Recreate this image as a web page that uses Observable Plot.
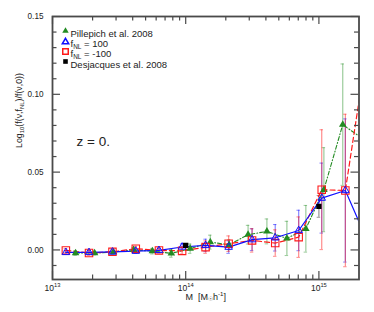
<!DOCTYPE html>
<html><head><meta charset="utf-8">
<script src="https://cdn.jsdelivr.net/npm/d3@7"></script>
<script src="https://cdn.jsdelivr.net/npm/@observablehq/plot@0.6"></script>
<style>body{margin:0;background:#fff}</style>
</head><body><div id="chart"></div>
<script>
// ---- data ----
const massFnl = [1.26e13, 1.88e13, 2.82e13, 4.22e13, 6.3e13, 9.4e13, 1.41e14, 2.1e14, 3.15e14, 4.7e14, 7.05e14, 1.05e15, 1.58e15, 2.36e15];
const ratioFnlPos = [-0.0016, -0.0016, -0.0013, -0.0008, -0.0003, 0.0019, 0.0029, 0.0018, 0.0066, 0.0078, 0.0125, 0.0333, 0.0382, 0.004];
const errFnlPos   = [0.0012, 0.0012, 0.0012, 0.0015, 0.0015, 0.002, 0.004, 0.004, 0.007, 0.0085, 0.013, 0.0225, 0.046, 0.05];
const ratioFnlNeg = [-0.0003, -0.002, -0.0012, 0.0008, -0.0003, -0.0006, 0.0018, 0.004, 0.0061, 0.0044, 0.0082, 0.0387, 0.0382, 0.136];
const errFnlNeg   = [0.0012, 0.0015, 0.0012, 0.0015, 0.0015, 0.002, 0.004, 0.005, 0.0075, 0.0085, 0.013, 0.0385, 0.049, 0.06];
const massPillepich  = [1.49e13, 2.07e13, 2.87e13, 4.06e13, 5.62e13, 7.8e13, 1.08e14, 1.53e14, 2.12e14, 2.94e14, 4.07e14, 5.75e14, 7.98e14, 1.09e15, 1.51e15, 2.09e15];
const ratioPillepich = [-0.002, -0.002, -0.0014, 0.0001, -0.0008, -0.0022, 0.0008, 0.005, 0.0033, 0.0098, 0.0119, 0.0074, 0.0136, 0.0387, 0.0805, 0.072];
const errPillepich   = [0.0015, 0.0012, 0.0012, 0.0015, 0.0018, 0.0025, 0.003, 0.0045, 0.0032, 0.006, 0.008, 0.011, 0.015, 0.027, 0.039, 0.05];
const massDesjacques  = [1e14, 1e15];
const ratioDesjacques = [0.0029, 0.028];
const errDesjacques   = [0.001, 0.007];
const legendLabels = ["Pillepich et al. 2008", "f_{NL} = 100", "f_{NL} = -100", "Desjacques et al. 2008"];
const xMajorTicks = [1e13, 1e14, 1e15];
const xTickLabels = ["10^{13}", "10^{14}", "10^{15}"];
const yMajorTicks = [0, 0.05, 0.10, 0.15];
const yTickLabels = ["0.00", "0.05", "0.10", "0.15"];
const xLabel = "M\u00a0\u00a0[M_{\u2609}h^{-1}]";
const yLabel = "Log_{10}(f(\u03bd,f_{NL})/f(\u03bd,0))";
const annotation = "z = 0.";

// ---- build tables ----
const tbl = (m, v, e) => m.map((M, i) => ({M, v: v[i], lo: v[i] - e[i], hi: v[i] + e[i]}));
const pil = tbl(massPillepich, ratioPillepich, errPillepich);
const pos = tbl(massFnl, ratioFnlPos, errFnlPos);
const neg = tbl(massFnl, ratioFnlNeg, errFnlNeg);
const des = tbl(massDesjacques, ratioDesjacques, errDesjacques);
const xMinorTicks = [1e13, 1e14].flatMap(b => d3.range(2, 10).map(k => k * b));
const yMinorTicks = d3.range(-1, 15).map(k => k / 100).filter(v => Math.abs(v * 20 - Math.round(v * 20)) > 1e-6);

const W = 374, H = 312, mL = 52, mR = 15.5, mT = 16, mB = 33;
const pw = W - mL - mR, ph = H - mT - mB;
const GREEN = "#228b22", BLUE = "#1010ff", RED = "#ff1a1a", AX = "#4a4a4a";
const capF = Math.pow(10, 0.013);

function errMarks(data, color, op) {
  return [
    Plot.ruleX(data, {x: "M", y1: "lo", y2: "hi", stroke: color, strokeOpacity: op, strokeWidth: 1.2, clip: true}),
    Plot.ruleY(data, {y: "lo", x1: d => d.M / capF, x2: d => d.M * capF, stroke: color, strokeOpacity: op, clip: true}),
    Plot.ruleY(data, {y: "hi", x1: d => d.M / capF, x2: d => d.M * capF, stroke: color, strokeOpacity: op, clip: true})
  ];
}

const legendMarkY = [14.5, 25.5, 35, 45];
const legendTextY = [13.5, 24, 34, 45];
const legendSym = [
  {symbol: "triangle", fill: GREEN, stroke: "none", r: 2.4},
  {symbol: "triangle", fill: "none", stroke: BLUE, r: 2.4},
  {symbol: "square", fill: "none", stroke: RED, r: 3.1},
  {symbol: "square", fill: "black", stroke: "none", r: 2.6}
];

const plot = Plot.plot({
  width: W, height: H, marginLeft: mL, marginRight: mR, marginTop: mT, marginBottom: mB,
  style: {fontFamily: "'Liberation Sans', Arial, sans-serif", background: "white", color: "#222"},
  x: {type: "log", domain: [1e13, 2e15]},
  y: {domain: [-0.019, 0.15]},
  marks: [
    // error bars
    ...errMarks(pil, GREEN, 0.45),
    ...errMarks(pos, BLUE, 0.5),
    ...errMarks(neg, RED, 0.5),
    ...errMarks(des, "#666", 0.7),
    // lines
    Plot.line(pil, {x: "M", y: "v", stroke: GREEN, strokeWidth: 1.1, strokeDasharray: "4,2,1,2", clip: true}),
    Plot.line(neg, {x: "M", y: "v", stroke: RED, strokeWidth: 1.2, strokeDasharray: "5,3", clip: true}),
    Plot.line(pos, {x: "M", y: "v", stroke: BLUE, strokeWidth: 1.2, clip: true}),
    // markers
    Plot.dot(pil, {x: "M", y: "v", symbol: "triangle", fill: GREEN, r: 2.8, clip: true}),
    Plot.dot(neg, {x: "M", y: "v", symbol: "square", fill: "none", stroke: RED, strokeWidth: 1.1, r: 4.2, clip: true}),
    Plot.dot(pos, {x: "M", y: "v", symbol: "triangle", fill: "none", stroke: BLUE, strokeWidth: 1, r: 2.8, clip: true}),
    Plot.dot(des, {x: "M", y: "v", symbol: "square", fill: "black", r: 3, clip: true}),
    // inward ticks
    Plot.tickX(xMajorTicks, {x: d => d, insetTop: ph - 8, stroke: AX, strokeWidth: 1.2}),
    Plot.tickX(xMajorTicks, {x: d => d, insetBottom: ph - 8, stroke: AX, strokeWidth: 1.2}),
    Plot.tickX(xMinorTicks, {x: d => d, insetTop: ph - 4.5, stroke: AX, strokeWidth: 1.2}),
    Plot.tickX(xMinorTicks, {x: d => d, insetBottom: ph - 4.5, stroke: AX, strokeWidth: 1.2}),
    Plot.tickY(yMajorTicks, {y: d => d, insetRight: pw - 8, stroke: AX, strokeWidth: 1.2}),
    Plot.tickY(yMajorTicks, {y: d => d, insetLeft: pw - 8, stroke: AX, strokeWidth: 1.2}),
    Plot.tickY(yMinorTicks, {y: d => d, insetRight: pw - 4.5, stroke: AX, strokeWidth: 1.2}),
    Plot.tickY(yMinorTicks, {y: d => d, insetLeft: pw - 4.5, stroke: AX, strokeWidth: 1.2}),
    Plot.frame({stroke: AX, strokeWidth: 1.8}),
    // tick labels
    Plot.axisX(xMajorTicks, {tickSize: 0, tickPadding: 5, label: null, fontSize: 8.5,
      tickFormat: d => xTickLabels[xMajorTicks.indexOf(d)]}),
    Plot.axisY(yMajorTicks, {tickSize: 0, tickPadding: 9, label: null, fontSize: 8.2,
      tickFormat: d => yTickLabels[yMajorTicks.findIndex(t => Math.abs(t - d) < 1e-9)]}),
    // axis titles
    Plot.text([xLabel], {text: d => d, frameAnchor: "bottom", dy: 20, fontSize: 9}),
    Plot.text([yLabel], {text: d => d, frameAnchor: "left", dx: -33, rotate: -90, fontSize: 8.8}),
    // annotation
    Plot.text([annotation], {text: d => d, frameAnchor: "top-left", dx: 24, dy: 120, textAnchor: "start", fontSize: 13.5}),
    // legend
    ...legendLabels.map((lab, i) => Plot.dot([lab], {frameAnchor: "top-left", dx: 13, dy: legendMarkY[i], ...legendSym[i]})),
    ...legendLabels.map((lab, i) => Plot.text([lab], {text: d => d, frameAnchor: "top-left", dx: 18, dy: legendTextY[i], textAnchor: "start", fontSize: 9.5}))
  ]
});

document.getElementById("chart").appendChild(plot);

// rich text: ^{...} superscript, _{...} subscript
function richify(svg) {
  svg.querySelectorAll("text").forEach(t => {
    const s = t.textContent;
    if (!/[\^_]\{/.test(s)) return;
    const parts = []; const re = /([\^_])\{([^}]*)\}/g; let last = 0, m;
    while ((m = re.exec(s))) {
      if (m.index > last) parts.push([null, s.slice(last, m.index)]);
      parts.push([m[1], m[2]]); last = re.lastIndex;
    }
    if (last < s.length) parts.push([null, s.slice(last)]);
    const fs = parseFloat(getComputedStyle(t).fontSize) || 10;
    while (t.firstChild) t.removeChild(t.firstChild);
    let shift = 0;
    for (const [k, str] of parts) {
      const sp = document.createElementNS("http://www.w3.org/2000/svg", "tspan");
      sp.textContent = str;
      const target = k === "^" ? -0.38 * fs : k === "_" ? 0.22 * fs : 0;
      sp.setAttribute("dy", target - shift); shift = target;
      if (k) sp.setAttribute("font-size", 0.68 * fs);
      t.appendChild(sp);
    }
  });
}
richify(plot);
</script>
</body></html>
